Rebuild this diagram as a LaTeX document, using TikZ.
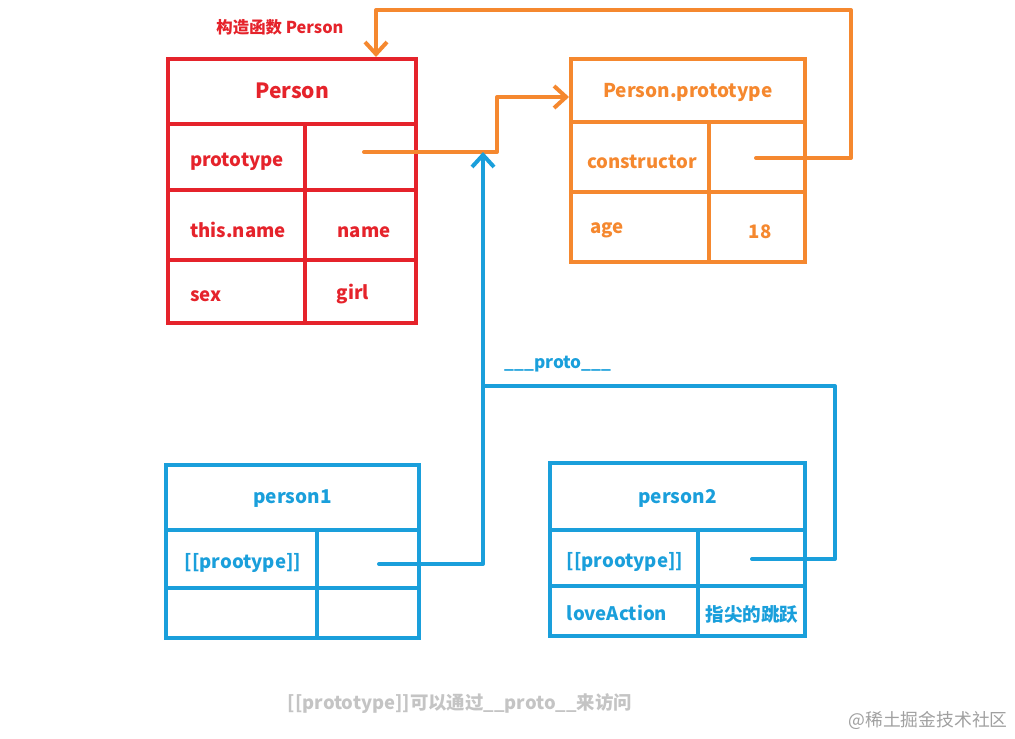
\documentclass[tikz,border=0pt]{standalone}
\usepackage{fontspec}
\setmainfont{Noto Sans CJK SC}
\usetikzlibrary{arrows.meta}
\definecolor{fnred}{HTML}{E5232B}
\definecolor{protoorange}{HTML}{F5882F}
\definecolor{objblue}{HTML}{1A9FDB}
\definecolor{notegray}{HTML}{C4C4C4}
\definecolor{markgray}{HTML}{A0A0A0}
\tikzset{
  head/.style={draw, line width=2pt, inner sep=0pt, text depth=0.5pt, font=\bfseries\fontsize{9.5}{12}\selectfont},
  txt/.style={inner sep=0pt, yshift=-1.5pt, font=\bfseries\fontsize{9.3}{12}\selectfont},
  link/.style={line width=2pt, line cap=round, line join=round},
  tip/.style={-{Straight Barb[length=6pt,width=11pt,line width=2pt]}}
}
\begin{document}
\begin{tikzpicture}[x=0.5pt,y=-0.5pt]
\useasboundingbox (0,0) rectangle (1015,738);
% constructor Person
\node[text=fnred, inner sep=0pt, font=\bfseries\fontsize{8.2}{10}\selectfont] (fnLabel) at (280,27) {构造函数 Person};
\node[head, fnred, minimum width=124pt, minimum height=32.5pt, font=\bfseries\fontsize{10.5}{12}\selectfont] (personHead) at (292,91.5) {Person};
\draw[fnred, line width=2pt] (168,124) rectangle (416,323);
\draw[fnred, line width=2pt] (168,190) -- (416,190) (168,260) -- (416,260) (305,124) -- (305,323);
\node[txt, fnred] (personProto) at (237,159) {prototype};
\node[txt, fnred] (personThis) at (238,227) {this.name};
\node[txt, fnred] (personName) at (364,229) {name};
\node[txt, fnred] (personSex) at (206,293) {sex};
\node[txt, fnred] (personGirl) at (353,291) {girl};
% Person.prototype
\node[head, protoorange, minimum width=117pt, minimum height=31.5pt] (protoHead) at (688,90.5) {Person.prototype};
\draw[protoorange, line width=2pt] (571,122) rectangle (805,262);
\draw[protoorange, line width=2pt] (571,192) -- (805,192) (709,122) -- (709,262);
\node[txt, protoorange] (protoCtor) at (642,159) {constructor};
\node[txt, protoorange] (protoAge) at (607,227) {age};
\node[txt, protoorange] (protoAgeVal) at (760,229) {18};
% person1
\node[head, objblue, minimum width=126.5pt, minimum height=32.5pt] (p1Head) at (292.5,497.5) {person1};
\draw[objblue, line width=2pt] (166,530) rectangle (419,638);
\draw[objblue, line width=2pt] (166,588) -- (419,588) (317,530) -- (317,638);
\node[txt, objblue] (p1Proto) at (243,560) {[[prootype]]};
% person2
\node[head, objblue, minimum width=127.5pt, minimum height=33.5pt] (p2Head) at (677.5,496.5) {person2};
\draw[objblue, line width=2pt] (550,530) rectangle (805,636);
\draw[objblue, line width=2pt] (550,586) -- (805,586) (698,530) -- (698,636);
\node[txt, objblue] (p2Proto) at (625,559) {[[prootype]]};
\node[txt, objblue] (p2Love) at (617,610) {loveAction};
\node[txt, objblue] (p2LoveVal) at (752,612) {指尖的跳跃};
% connectors
\coordinate (personStart) at (364,152);
\coordinate (protoBend) at (497,97);
\coordinate (ctorStart) at (756,158);
\coordinate (ctorTop) at (851,10);
\coordinate (p1Start) at (379,564);
\coordinate (protoMeet) at (483,152);
\coordinate (p2Start) at (752,559);
\coordinate (p2Corner) at (835,386);
\draw[link, protoorange, tip] (personStart) -| (protoBend) -- (protoHead.west |- protoBend);
\draw[link, protoorange, tip] (ctorStart) -| (ctorTop) -| ([xshift=42pt]personHead.north);
\draw[link, objblue, tip] (p1Start) -| (protoMeet);
\draw[link, objblue] (p2Start) -| (p2Corner) -- (p2Corner -| protoMeet);
\node[txt, objblue, font=\bfseries\fontsize{8.6}{11}\selectfont] (protoLabel) at (558,361) {\_\_\_proto\_\_\_};
% notes
\node[inner sep=0pt, text=notegray, font=\bfseries\fontsize{9.2}{12}\selectfont] (note) at (460,704) {[[prototype]]可以通过\_\_proto\_\_来访问};
\node[inner sep=0pt, text=markgray, font=\fontsize{8.9}{11}\selectfont] (mark) at (928,720) {@稀土掘金技术社区};
\end{tikzpicture}
\end{document}
